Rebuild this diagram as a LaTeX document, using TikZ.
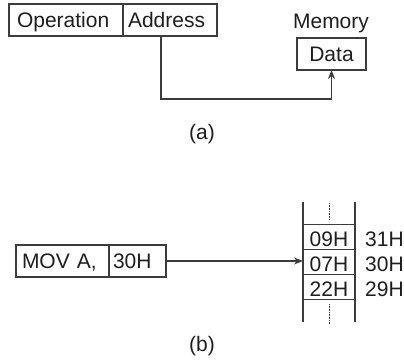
\documentclass[tikz,border=0pt]{standalone}
\usepackage{fontspec}
\setmainfont{Liberation Sans}
\usetikzlibrary{arrows.meta}
\definecolor{ln}{HTML}{3C3C3C}
\definecolor{txt}{HTML}{1E1E1E}
\begin{document}
\begin{tikzpicture}[x=1pt,y=-1pt,
  every node/.style={font=\fontsize{21}{25}\selectfont, text=txt},
  box/.style={draw=ln, line width=1.1pt, minimum height=32pt, inner ysep=0pt,
    text height=15pt, text depth=0pt, anchor=north west, outer sep=0pt},
  cell/.style={draw=ln, line width=1.1pt, minimum height=25pt, minimum width=52pt,
    inner sep=0pt, text height=19.6pt, text depth=0pt, anchor=north west, outer sep=0pt},
  conn/.style={draw=ln, line width=1.1pt, -{Stealth[length=9pt,width=7pt]}},
  colline/.style={draw=ln, line width=1.6pt},
  dots/.style={draw=ln, line width=0.9pt, dash pattern=on 0.8pt off 0.8pt}
]
\useasboundingbox (0,0) rectangle (404,361);

% (a)
\node[box, minimum width=114pt, text width=98pt, inner xsep=8pt, align=left] (op) at (9,4) {Operation};
\node[box, minimum width=94pt, text width=84pt, inner xsep=5pt, align=left] (addr) at (123,4) {Address};
\node[anchor=base] (mem) at (331,29) {Memory};
\node[box, minimum width=69pt, inner xsep=0pt] (data) at (297,38) {Data};
\draw[conn] ([xshift=38pt]addr.south west) -- ++(0,63) -| (data.south);
\node (la) at (202,134) {(a)};

% (b)
\node[box, minimum width=93pt, text width=81pt, inner xsep=6pt, align=left] (mov) at (16,245) {MOV A,};
\node[box, minimum width=57pt, text width=49pt, inner xsep=4pt, align=left] (ad) at (109,245) {30H};

\node[cell] (m31) at (303,224.5) {09H};
\node[cell] (m30) at (303,249.5) {07H};
\node[cell] (m29) at (303,274.5) {22H};
\draw[colline] (303,202) -- (303,322);
\draw[colline] (355,202) -- (355,322);
\draw[dots] (329,203) -- (329,220);
\draw[dots] (329,304) -- (329,324);

\node[anchor=base west, inner xsep=0pt] (a31) at ([xshift=10pt]m31.base east) {31H};
\node[anchor=base west, inner xsep=0pt] (a30) at ([xshift=10pt]m30.base east) {30H};
\node[anchor=base west, inner xsep=0pt] (a29) at ([xshift=10pt]m29.base east) {29H};

\draw[conn] (ad.east) -- (ad.east -| m30.west);
\node (lb) at (202,346.5) {(b)};
\end{tikzpicture}
\end{document}
